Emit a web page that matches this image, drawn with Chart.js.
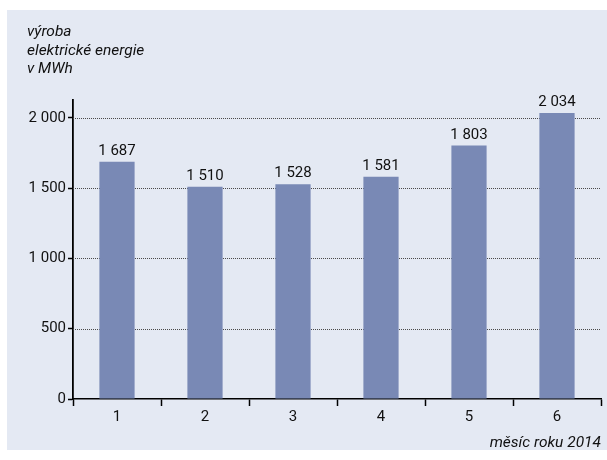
<!DOCTYPE html>
<html>
<head>
<meta charset="utf-8">
<script src="https://cdn.jsdelivr.net/npm/chart.js@4/dist/chart.umd.min.js"></script>
<style>
html,body{margin:0;padding:0;background:#ffffff;}
#wrap{position:relative;width:607px;height:460px;}
</style>
</head>
<body>
<div id="wrap"><canvas id="c" width="607" height="460"></canvas></div>
<script>
const categories = ['1', '2', '3', '4', '5', '6'];
const values = [1687, 1510, 1528, 1581, 1803, 2034];
const yTicks = [0, 500, 1000, 1500, 2000];
const titleLines = ['výroba', 'elektrické energie', 'v MWh'];
const xTitle = 'měsíc roku 2014';

const FONT = 'Roboto, "Liberation Sans", sans-serif';
const fmt = v => String(v).replace(/\B(?=(\d{3})+(?!\d))/g, '\u00a0');

const panelPlugin = {
  id: 'panel',
  beforeDraw(chart) {
    const ctx = chart.ctx;
    ctx.save();
    ctx.fillStyle = '#e4e9f3';
    ctx.fillRect(7, 10, 600, 440);
    ctx.restore();
  },
  beforeDatasetsDraw(chart) {
    const ctx = chart.ctx;
    const y = chart.scales.y;
    const area = chart.chartArea;
    ctx.save();
    ctx.strokeStyle = '#4a4a4a';
    ctx.lineWidth = 1;
    ctx.setLineDash([1, 1]);
    yTicks.forEach(v => {
      if (v === 0) return;
      const py = Math.round(y.getPixelForValue(v)) + 0.5;
      ctx.beginPath();
      ctx.moveTo(area.left, py);
      ctx.lineTo(area.right, py);
      ctx.stroke();
    });
    ctx.restore();
  }
};

const labelPlugin = {
  id: 'valueLabels',
  afterDatasetsDraw(chart) {
    const ctx = chart.ctx;
    const meta = chart.getDatasetMeta(0);
    ctx.save();
    ctx.font = '15px ' + FONT;
    ctx.fillStyle = '#111';
    ctx.textAlign = 'center';
    ctx.textBaseline = 'bottom';
    meta.data.forEach((bar, i) => {
      ctx.fillText(fmt(values[i]), bar.x, bar.y - 3);
    });
    ctx.restore();
  }
};

new Chart(document.getElementById('c'), {
  type: 'bar',
  data: {
    labels: categories,
    datasets: [{
      data: values,
      backgroundColor: '#7989b5',
      borderWidth: 0,
      barPercentage: 1,
      categoryPercentage: 0.4
    }]
  },
  plugins: [panelPlugin, labelPlugin],
  options: {
    responsive: false,
    animation: false,
    devicePixelRatio: 1,
    layout: { padding: { left: 27, right: 6, top: 0, bottom: 0 } },
    plugins: {
      legend: { display: false },
      tooltip: { enabled: false },
      title: {
        display: true,
        text: titleLines,
        align: 'start',
        color: '#111',
        font: { family: FONT, size: 15.5, style: 'italic', weight: 'normal', lineHeight: 1.2 },
        padding: { top: 23, bottom: 21 }
      }
    },
    scales: {
      x: {
        afterFit(s) { s.height = 61; },
        grid: {
          offset: true,
          drawOnChartArea: false,
          tickLength: 7,
          tickColor: '#000',
          tickWidth: 1.5
        },
        border: { color: '#000', width: 1.5 },
        ticks: {
          color: '#111',
          padding: 2,
          font: { family: FONT, size: 15 }
        },
        title: {
          display: true,
          text: xTitle,
          align: 'end',
          color: '#111',
          font: { family: FONT, size: 15.5, style: 'italic' },
          padding: { top: 0, bottom: 8 }
        }
      },
      y: {
        min: 0,
        max: 2128,
        afterFit(s) { s.width = 46; },
        afterBuildTicks(s) { s.ticks = yTicks.map(v => ({ value: v })); },
        grid: {
          drawOnChartArea: false,
          tickLength: 5,
          tickColor: '#000',
          tickWidth: 1.5
        },
        border: { color: '#000', width: 1.8 },
        ticks: {
          color: '#111',
          padding: 2,
          font: { family: FONT, size: 15 },
          callback: v => fmt(v)
        }
      }
    }
  }
});
</script>
</body>
</html>
